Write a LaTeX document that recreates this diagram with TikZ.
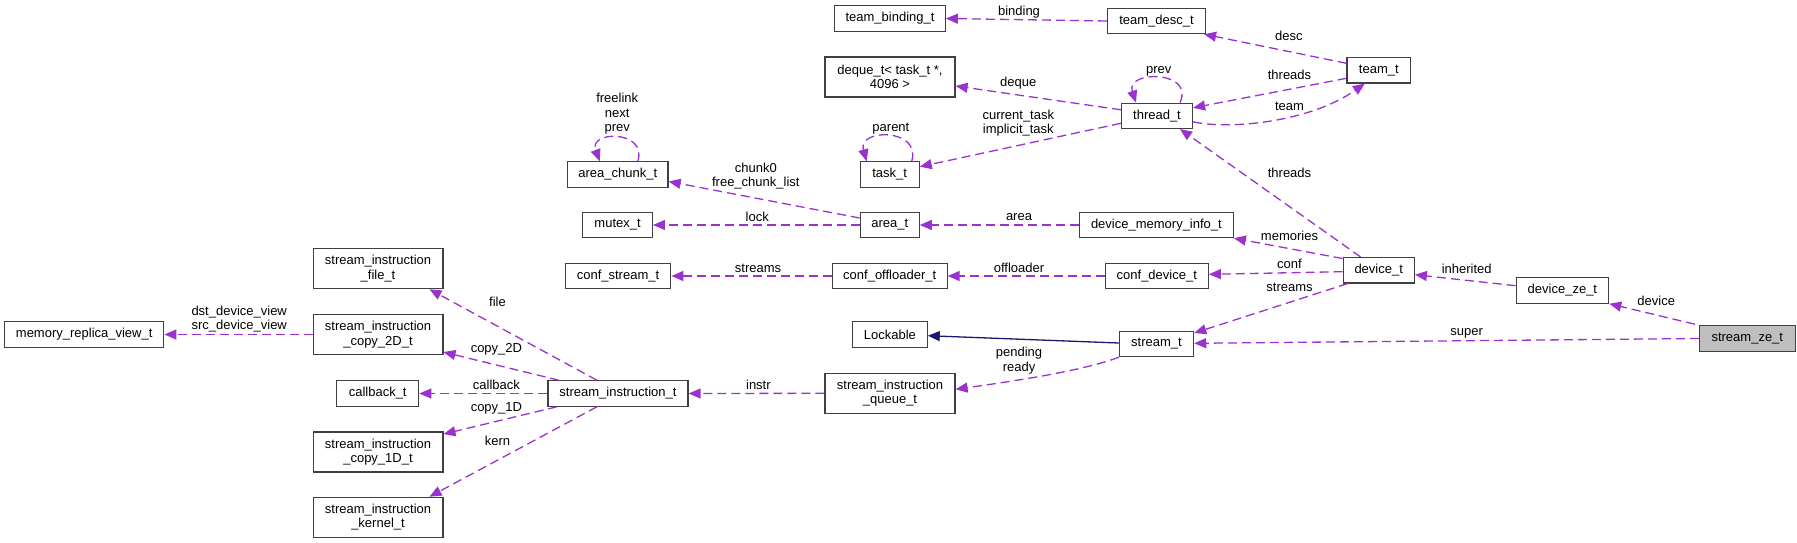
\documentclass[tikz,border=0pt]{standalone}
\usepackage{fontspec}
\setmainfont{Liberation Sans}
\usetikzlibrary{arrows.meta}
\definecolor{edgepurple}{HTML}{9A32CD}
\definecolor{inhblue}{HTML}{191970}
\definecolor{boxgray}{HTML}{404040}
\definecolor{selgray}{HTML}{BFBFBF}
\begin{document}
\begin{tikzpicture}[x=1pt,y=-1pt,
  cls/.style={draw=boxgray, line width=1.2pt, fill=white, inner sep=0pt, align=center,
    font=\fontsize{13}{14.5}\selectfont, minimum height=25.3pt},
  cls2/.style={cls, minimum height=40pt},
  lbl/.style={inner sep=0pt, align=center, font=\fontsize{13}{14.5}\selectfont},
  rel/.style={draw=edgepurple, line width=1.3pt, dash pattern=on 9pt off 5pt,
    -{Triangle[length=12pt,width=10pt]}},
  inh/.style={draw=inhblue, line width=1.3pt, -{Triangle[length=12pt,width=10pt]}}]
\useasboundingbox (0,0) rectangle (1797,543);

% nodes
\node[cls, minimum width=110.6pt] (teambinding) at (890,18.5) {team\_binding\_t};
\node[cls, minimum width=98pt] (teamdesc) at (1156.5,21) {team\_desc\_t};
\node[cls, minimum width=63.5pt] (teamt) at (1378.8,70.3) {team\_t};
\node[cls2, minimum width=130pt] (deque) at (890,77) {deque\_t< task\_t *,\\4096 >};
\node[cls, minimum width=71pt] (thread) at (1157,115.8) {thread\_t};
\node[cls, minimum width=59pt] (task) at (889.7,174.5) {task\_t};
\node[cls, minimum width=100.5pt] (areachunk) at (617.8,174.5) {area\_chunk\_t};
\node[cls, minimum width=69.5pt] (mutex) at (617.6,225) {mutex\_t};
\node[cls, minimum width=59pt] (area) at (889.7,225) {area\_t};
\node[cls, minimum width=153.8pt] (devmem) at (1156.4,225) {device\_memory\_info\_t};
\node[cls, minimum width=105.5pt] (confstream) at (618,276) {conf\_stream\_t};
\node[cls, minimum width=114.8pt] (confoff) at (889.7,276) {conf\_offloader\_t};
\node[cls, minimum width=103pt] (confdevice) at (1156.8,276) {conf\_device\_t};
\node[cls, minimum width=71.2pt] (device) at (1378.7,270.3) {device\_t};
\node[cls, minimum width=92.6pt] (deviceze) at (1562.4,290.5) {device\_ze\_t};
\node[cls, minimum width=95.7pt, fill=selgray] (streamze) at (1747.3,338.5) {stream\_ze\_t};
\node[cls, minimum width=74.6pt] (lockable) at (889.9,334.5) {Lockable};
\node[cls, minimum width=74.3pt] (streamt) at (1156.5,344) {stream\_t};
\node[cls2, minimum width=130pt] (queue) at (890,393.3) {stream\_instruction\\\_queue\_t};
\node[cls, minimum width=140pt] (si) at (618,393.5) {stream\_instruction\_t};
\node[cls, minimum width=159.2pt] (memrep) at (84.2,334.5) {memory\_replica\_view\_t};
\node[cls2, minimum width=129.8pt] (file) at (378,268.7) {stream\_instruction\\\_file\_t};
\node[cls2, minimum width=129.8pt] (copy2d) at (378,334.5) {stream\_instruction\\\_copy\_2D\_t};
\node[cls, minimum width=82pt] (callback) at (377.7,393.5) {callback\_t};
\node[cls2, minimum width=129.8pt] (copy1d) at (378,452) {stream\_instruction\\\_copy\_1D\_t};
\node[cls2, minimum width=129.8pt] (kernel) at (378,517.3) {stream\_instruction\\\_kernel\_t};

% edges
\draw[rel] (teamdesc.west) -- (teambinding.east);
\draw[rel] ([yshift=7pt]teamt.west) -- ([xshift=-2pt]teamdesc.south east);
\draw[rel] ([yshift=-8pt]teamt.west) -- ([yshift=8pt]thread.east);
\draw[rel] ([yshift=-6pt]thread.east) .. controls (1230,130) and (1310,122) .. ([xshift=-14pt]teamt.south);
\draw[rel] ([xshift=23pt]thread.north) .. controls (1195,70) and (1125,70) .. ([xshift=-21pt]thread.north);
\draw[rel] ([yshift=6pt]thread.west) -- ([yshift=-9pt]deque.east);
\draw[rel] ([yshift=-7.5pt]thread.west) -- ([yshift=7.8pt]task.east);
\draw[rel] ([xshift=22pt]task.north) .. controls (922,128) and (857,128) .. ([xshift=-23pt]task.north);
\draw[rel] ([xshift=20pt]areachunk.north) .. controls (648,130) and (588,130) .. ([xshift=-18pt]areachunk.north);
\draw[rel] ([yshift=7pt]area.west) -- ([yshift=-7pt]areachunk.east);
\draw[rel] (area.west) -- (mutex.east);
\draw[rel] (devmem.west) -- (area.east);
\draw[rel] ([yshift=-1.5pt]device.north west) -- (devmem.south east);
\draw[rel] ([xshift=-18pt]device.north) -- ([xshift=23pt]thread.south);
\draw[rel] ([yshift=-1.4pt]device.west) -- ([yshift=1.7pt]confdevice.east);
\draw[rel] (confdevice.west) -- (confoff.east);
\draw[rel] (confoff.west) -- (confstream.east);
\draw[rel] ([yshift=4.8pt]deviceze.west) -- ([yshift=-4.4pt]device.east);
\draw[rel] ([xshift=-31pt]device.south) -- ([yshift=11pt]streamt.east);
\draw[rel] ([xshift=-4pt,yshift=1pt]streamze.north west) -- (deviceze.south east);
\draw[rel] (streamze.west) -- ([yshift=0.7pt]streamt.east);
\draw[inh] ([yshift=1pt]streamt.west) -- ([yshift=-1.2pt]lockable.east);
\draw[rel] (streamt.south west) .. controls (1080,372) and (1000,383) .. ([yshift=4pt]queue.east);
\draw[rel] (queue.west) -- (si.east);
\draw[rel] ([xshift=-21pt]si.north) -- ([xshift=-14pt]file.south east);
\draw[rel] ([xshift=-59pt]si.north) -- ([yshift=3pt]copy2d.south east);
\draw[rel] (si.west) -- (callback.east);
\draw[rel] ([xshift=-61pt]si.south) -- ([yshift=-2.7pt]copy1d.north east);
\draw[rel] ([xshift=-21pt]si.south) -- ([xshift=-14pt]kernel.north east);
\draw[rel] (copy2d.west) -- (memrep.east);

% labels
\node[lbl] (lbinding) at (1019,12) {binding};
\node[lbl] (ldesc) at (1288.8,36) {desc};
\node[lbl] (lthreads1) at (1289.5,75.3) {threads};
\node[lbl] (lteam) at (1289.5,106.7) {team};
\node[lbl] (lprev) at (1158.7,71) {prev};
\node[lbl] (ldeque) at (1018.3,83.3) {deque};
\node[lbl] (lcurtask) at (1018.3,123) {current\_task\\implicit\_task};
\node[lbl] (lparent) at (890.9,129) {parent};
\node[lbl] (lfreelink) at (617.2,114) {freelink\\next\\prev};
\node[lbl] (lchunk) at (755.8,176) {chunk0\\free\_chunk\_list};
\node[lbl] (llock) at (757.3,216.7) {lock};
\node[lbl] (larea) at (1019,216.7) {area};
\node[lbl] (lmemories) at (1289.5,235.7) {memories};
\node[lbl] (lthreads2) at (1289.5,172.7) {threads};
\node[lbl] (lconf) at (1289.5,264.3) {conf};
\node[lbl] (loffloader) at (1019,268) {offloader};
\node[lbl] (lstreams1) at (758,268) {streams};
\node[lbl] (linherited) at (1466.7,268.7) {inherited};
\node[lbl] (lstreams2) at (1289.5,287) {streams};
\node[lbl] (ldevice) at (1656.2,300.7) {device};
\node[lbl] (lsuper) at (1466.7,333) {super};
\node[lbl] (lpending) at (1019,360.5) {pending\\ready};
\node[lbl] (linstr) at (758.4,384.7) {instr};
\node[lbl] (lfile) at (497.5,302.3) {file};
\node[lbl] (lcopy2d) at (496.4,349) {copy\_2D};
\node[lbl] (lcallback) at (496.4,384.7) {callback};
\node[lbl] (lcopy1d) at (496.4,408.7) {copy\_1D};
\node[lbl] (lkern) at (497.5,440.7) {kern};
\node[lbl] (ldst) at (239.2,319) {dst\_device\_view\\src\_device\_view};
\end{tikzpicture}
\end{document}
